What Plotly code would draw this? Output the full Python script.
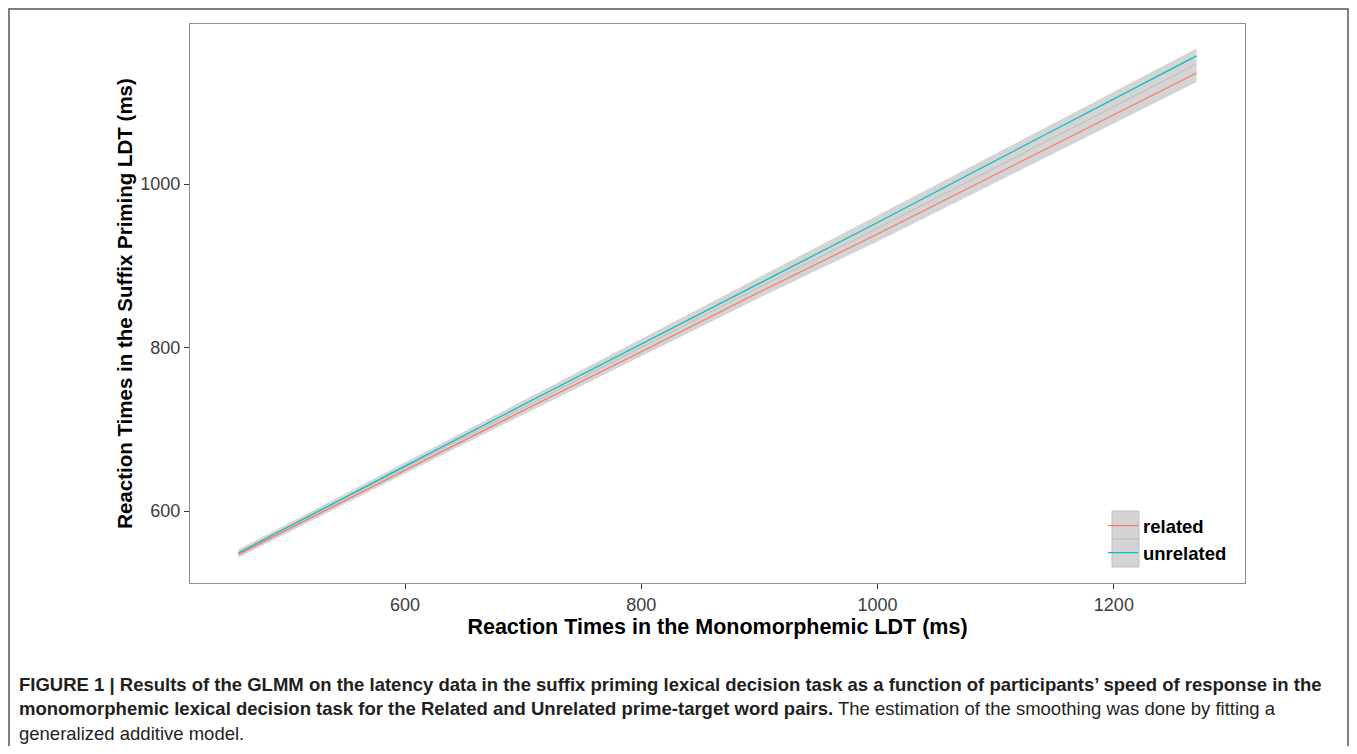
import plotly.graph_objects as go

# ---- data ----
x_rt = [459, 500, 600, 700, 800, 900, 1000, 1100, 1200, 1270]
related = [547, 577, 650, 723, 795, 868, 939, 1012, 1085, 1136]
unrelated = [549, 580, 655, 730, 804, 879, 953, 1029, 1104, 1157]
middle = [548, 579, 653, 727, 800, 874, 946, 1020, 1095, 1147]
band_upper = [553, 584, 660, 736, 811, 887, 962, 1038, 1114, 1166]
band_lower = [543, 573, 646, 718, 789, 861, 930, 1002, 1074, 1125]

x_ticks = [600, 800, 1000, 1200]
y_ticks = [600, 800, 1000]

RED = "#F8766D"
CYAN = "#00BFC4"
BAND = "#d4d4d4"

# the page body has an 8px margin, so figure coords = page coords - 8
OFF = 8
W, H = 1341, 738
L, T = 190 - OFF, 24 - OFF
R = W - (1245 - OFF)
B = H - (583 - OFF)
pw, ph = W - L - R, H - T - B


def px_x(p):
    return (p - OFF - L) / pw


def px_y(p):
    return (H - B - (p - OFF)) / ph


fig = go.Figure()

# confidence band
fig.add_trace(go.Scatter(x=x_rt, y=band_lower, mode="lines", line=dict(width=0),
                         showlegend=False, hoverinfo="skip"))
fig.add_trace(go.Scatter(x=x_rt, y=band_upper, mode="lines", line=dict(width=0),
                         fill="tonexty", fillcolor=BAND, showlegend=False, hoverinfo="skip"))
fig.add_trace(go.Scatter(x=x_rt, y=middle, mode="lines", line=dict(color="#bdbdbd", width=1),
                         showlegend=False, hoverinfo="skip"))
fig.add_trace(go.Scatter(x=x_rt, y=related, mode="lines", name="<b>related</b>",
                         line=dict(color=RED, width=1.2)))
fig.add_trace(go.Scatter(x=x_rt, y=unrelated, mode="lines", name="<b>unrelated</b>",
                         line=dict(color=CYAN, width=1.2)))

axis_common = dict(
    showgrid=False, zeroline=False, showline=True, mirror=True,
    linecolor="#8c8c8c", linewidth=1.2, ticks="outside", ticklen=5,
    tickcolor="#333333", tickwidth=1,
    tickfont=dict(family="Liberation Sans, Arial", size=18, color="#3d3d3d"),
)

fig.update_xaxes(range=[418, 1311], tickvals=x_ticks, **axis_common,
                 title=dict(text="<b>Reaction Times in the Monomorphemic LDT (ms)</b>",
                            font=dict(family="Liberation Sans, Arial", size=21.5, color="#000000"),
                            standoff=4))
fig.update_yaxes(range=[512, 1196], tickvals=y_ticks, **axis_common,
                 title=dict(text="<b>Reaction Times in the Suffix Priming LDT (ms)</b>",
                            font=dict(family="Liberation Sans, Arial", size=20.5, color="#000000"),
                            standoff=2))

shapes = []
# outer frame of the figure (kept inside the canvas)
shapes.append(dict(type="rect", xref="paper", yref="paper",
                   x0=px_x(9), x1=px_x(OFF + W - 1), y0=px_y(OFF + H + 20), y1=px_y(OFF + 1),
                   line=dict(color="#555555", width=1.5), fillcolor="rgba(0,0,0,0)"))
# legend key boxes
for top in (511, 539):
    shapes.append(dict(type="rect", xref="paper", yref="paper",
                       x0=px_x(1112), x1=px_x(1139), y0=px_y(top + 28), y1=px_y(top),
                       line=dict(color="#bfbfbf", width=1), fillcolor=BAND, layer="above"))

caption_font = dict(family="Liberation Sans, Arial", size=18.5, color="#231f20")
annotations = [
    dict(xref="paper", yref="paper", x=px_x(17), y=px_y(684), xanchor="left", yanchor="middle",
         showarrow=False, align="left", font=caption_font,
         text="<b>FIGURE 1 | Results of the GLMM on the latency data in the suffix priming lexical decision task as a function of participants\u2019 speed of response in the</b>"),
    dict(xref="paper", yref="paper", x=px_x(17), y=px_y(708), xanchor="left", yanchor="middle",
         showarrow=False, align="left", font=caption_font,
         text="<b>monomorphemic lexical decision task for the Related and Unrelated prime-target word pairs.</b> The estimation of the smoothing was done by fitting a"),
    dict(xref="paper", yref="paper", x=px_x(17), y=px_y(733), xanchor="left", yanchor="middle",
         showarrow=False, align="left", font=caption_font,
         text="generalized additive model."),
]

fig.update_layout(
    width=W, height=H,
    margin=dict(l=L, r=R, t=T, b=B),
    paper_bgcolor="white", plot_bgcolor="white",
    shapes=shapes, annotations=annotations,
    legend=dict(x=px_x(1103), y=px_y(507), xanchor="left", yanchor="top",
                bgcolor="rgba(0,0,0,0)", borderwidth=0, itemwidth=30,
                tracegroupgap=0, traceorder="normal",
                font=dict(family="Liberation Sans, Arial", size=18.5, color="#000000"),
                ),
    showlegend=True,
)

fig.write_html("out.html")
